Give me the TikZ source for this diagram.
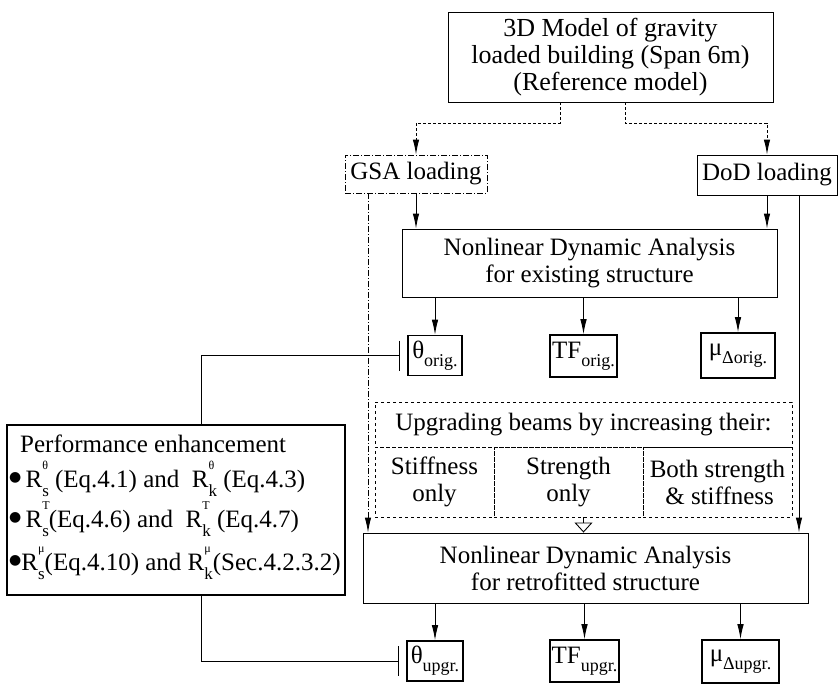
\documentclass[tikz,border=0pt]{standalone}
\usepackage{fontspec}
\setmainfont{Liberation Serif}
\newfontfamily\djv{DejaVu Sans}
\usetikzlibrary{arrows.meta,calc}
\newcommand{\sbx}[1]{\raisebox{-0.32em}{\fontsize{18}{18}\selectfont #1}}
\newcommand{\RR}[2]{R\rlap{\raisebox{0.72em}{\fontsize{12}{12}\selectfont #1}}\raisebox{-0.38em}{\fontsize{17}{17}\selectfont #2}}
\newcommand{\bul}{\raisebox{0.22em}{\djv\fontsize{14}{14}\selectfont ●}}
\begin{document}
\begin{tikzpicture}[x=1pt,y=-1pt,
  every node/.style={font=\fontsize{25}{27}\selectfont, inner sep=0pt},
  box/.style={draw, line width=0.9pt, align=center},
  outbox/.style={draw, line width=1.6pt},
  conn/.style={line width=0.9pt},
  arr/.style={conn, -{Latex[length=15pt,width=6.5pt]}},
  tbar/.style={conn, -{Bar[width=30pt]}, shorten >=7pt},
  dd/.style={dash pattern=on 6pt off 2pt on 1pt off 2pt}
]
\useasboundingbox (0,0) rectangle (840,685);

% top
\node[box, minimum width=325pt, minimum height=90pt, font=\fontsize{26}{27}\selectfont] (top) at (610.5,57)
  {3D Model of gravity\\loaded building (Span 6m)\\(Reference model)};
\node[box, dd, minimum width=142pt, minimum height=38pt] (gsa) at (416,174) {GSA loading};
\node[box, minimum width=140pt, minimum height=40pt] (dod) at (767,175) {DoD loading};

\node[box, minimum width=375pt, minimum height=68pt] (nda1) at (589.5,263)
  {Nonlinear Dynamic Analysis\\for existing structure};

\node[outbox, minimum width=54pt, minimum height=40pt] (to) at (435,355.5) {θ\sbx{orig.}};
\node[outbox, minimum width=67pt, minimum height=42pt] (tfo) at (583.5,356) {TF\sbx{orig.}};
\node[outbox, minimum width=74pt, minimum height=45pt] (muo) at (738,355.5) {μ\sbx{Δorig.}};

% upgrading table
\node[box, dashed, minimum width=417pt, minimum height=45pt] (uph) at (583.5,424.5) {Upgrading beams by increasing their:};
\node[box, dashed, minimum width=119pt, minimum height=70pt] (s1) at (434.5,482) {Stiffness\\only};
\node[box, dashed, minimum width=149pt, minimum height=70pt] (s2) at (568.5,482) {Strength\\only};
\node[box, dashed, minimum width=149pt, minimum height=70pt] (s3) at (717.5,482) {Both strength\\\,\& stiffness};

\node[box, minimum width=445pt, minimum height=70pt] (nda2) at (585.5,568)
  {Nonlinear Dynamic Analysis\\for retrofitted structure};

\node[outbox, minimum width=56pt, minimum height=40pt] (tu) at (435,661) {θ\sbx{upgr.}};
\node[outbox, minimum width=69pt, minimum height=42pt] (tfu) at (584.5,661) {TF\sbx{upgr.}};
\node[outbox, minimum width=77pt, minimum height=43pt] (muu) at (740.5,661.5) {μ\sbx{Δupgr.}};

% performance box
\node[draw, line width=1.6pt, minimum width=338pt, minimum height=170pt] (perf) at (176,510) {};
\node[anchor=base west] (p0) at (20,452) {Performance enhancement};
\node[anchor=base west] (p1) at (9,487) {\bul\,\RR{θ}{s} (Eq.4.1) and \ \RR{θ}{k} (Eq.4.3)};
\node[anchor=base west] (p2) at (9,527) {\bul\,\RR{T}{s}(Eq.4.6) and \ \RR{T}{k} (Eq.4.7)};
\node[anchor=base west] (p3) at (9,570) {\bul\RR{μ}{s}(Eq.4.10) and \RR{μ}{k}(Sec.4.2.3.2)};

% coordinates
\coordinate (m1) at (560,123);
\coordinate (m2) at (625,123);
\coordinate (xGd) at (368,0);
\coordinate (xDd) at (799,0);
\coordinate (xP) at (201,0);

% connectors
\draw[arr, densely dashed] (m1 |- top.south) -- (m1) -| (gsa.north);
\draw[arr, densely dashed] (m2 |- top.south) -- (m2) -| (dod.north);
\draw[arr] (gsa.south) -- (gsa |- nda1.north);
\draw[arr] (dod.south) -- (dod |- nda1.north);
\draw[arr] (xDd |- dod.south) -- (xDd |- nda2.north);
\draw[arr, dd] (xGd |- gsa.south) -- (xGd |- nda2.north);

\draw[arr] (to |- nda1.south) -- (to.north);
\draw[arr] (tfo |- nda1.south) -- (tfo.north);
\draw[arr] (muo |- nda1.south) -- (muo.north);

\draw[conn, -{Triangle[open,width=18pt,length=10pt]}] (tfo |- s2.south) -- (tfo |- nda2.north);

\draw[arr] (tu |- nda2.south) -- (tu.north);
\draw[arr] (tfu |- nda2.south) -- (tfu.north);
\draw[arr] (muu |- nda2.south) -- (muu.north);

\draw[tbar] (xP |- perf.north) |- (to.west);
\draw[tbar] (xP |- perf.south) |- (tu.west);
\end{tikzpicture}
\end{document}
